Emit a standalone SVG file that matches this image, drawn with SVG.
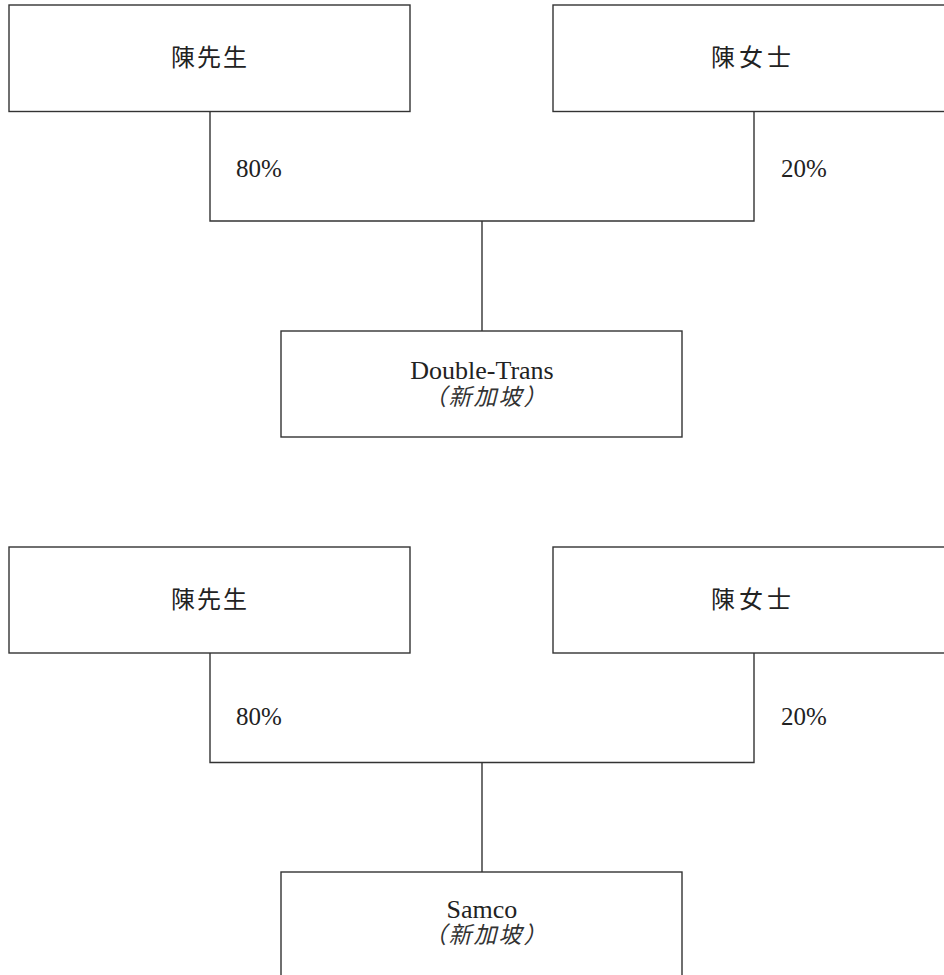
<svg xmlns="http://www.w3.org/2000/svg" width="944" height="975" viewBox="0 0 944 975">
<style>
.box{fill:#fff;stroke:#333;stroke-width:1.4}
.ln{fill:none;stroke:#333;stroke-width:1.4}
.cjk{font-family:"Liberation Serif","Noto Sans CJK TC",serif;font-size:24px;fill:#222;text-anchor:middle;dominant-baseline:central}
.lat{font-family:"Liberation Serif","Noto Sans CJK TC",serif;font-size:25px;fill:#222}
.mid{text-anchor:middle;font-size:26px}
.sub{font-family:"Liberation Serif","Noto Sans CJK TC",serif;font-size:23px;font-style:italic;fill:#333;text-anchor:middle;letter-spacing:2px}
</style>
<rect width="944" height="975" fill="#fff"/>
<g id="connectors">
<path class="ln" d="M210,111.5 V221 H754 V111.5"/>
<path class="ln" d="M482,221 V331"/>
<path class="ln" d="M210,653 V762.5 H754 V653"/>
<path class="ln" d="M482,762.5 V872"/>
<text class="lat" x="236" y="177">80%</text>
<text class="lat" x="781" y="177">20%</text>
<text class="lat" x="236" y="725">80%</text>
<text class="lat" x="781" y="725">20%</text>
</g>
<g id="mr-chen-1">
<rect class="box" x="9" y="5" width="401" height="106.5"/>
<text class="cjk" x="210" y="58" letter-spacing="2">陳先生</text>
</g>
<g id="ms-chen-1">
<rect class="box" x="553" y="5" width="401" height="106.5"/>
<text class="cjk" x="753" y="58" letter-spacing="4">陳女士</text>
</g>
<g id="double-trans">
<rect class="box" x="281" y="331" width="401" height="106"/>
<text class="lat mid" x="482" y="379">Double-Trans</text>
<text class="sub" x="486" y="405">（新加坡）</text>
</g>
<g id="mr-chen-2">
<rect class="box" x="9" y="547" width="401" height="106"/>
<text class="cjk" x="210" y="600" letter-spacing="2">陳先生</text>
</g>
<g id="ms-chen-2">
<rect class="box" x="553" y="547" width="401" height="106"/>
<text class="cjk" x="753" y="600" letter-spacing="4">陳女士</text>
</g>
<g id="samco">
<rect class="box" x="281" y="872" width="401" height="120"/>
<text class="lat mid" x="482" y="918">Samco</text>
<text class="sub" x="486" y="943">（新加坡）</text>
</g>
</svg>
